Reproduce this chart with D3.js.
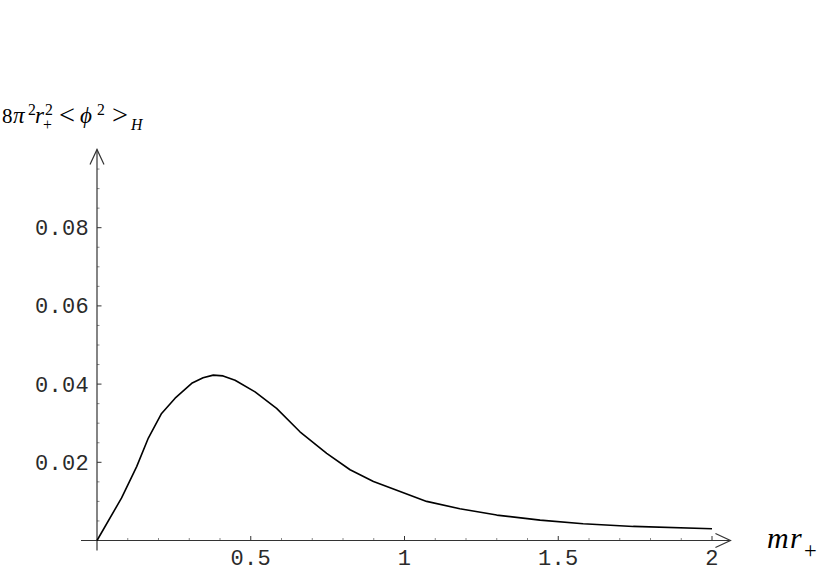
<!DOCTYPE html>
<meta charset="utf-8">
<style>
body { margin: 0; background: #fff; }
.tick-label { font-family: "Liberation Mono", monospace; font-size: 22px; fill: #2a2a2a; letter-spacing: 0.3px; }
.title { font-family: "Liberation Serif", "DejaVu Serif", serif; fill: #000; }
</style>
<body>
<svg width="818" height="576"></svg>
<script src="https://d3js.org/d3.v7.min.js"></script>
<script>

// data
var mr = [0, 0.08, 0.129, 0.167, 0.21, 0.254, 0.308, 0.345, 0.378, 0.41, 0.449, 0.514, 0.584, 0.66, 0.747, 0.823, 0.899, 0.964, 1.072, 1.18, 1.3, 1.441, 1.581, 1.744, 2.0];
var phi2 = [0, 0.0109, 0.0189, 0.0262, 0.0325, 0.0364, 0.0402, 0.0416, 0.0423, 0.0421, 0.0410, 0.0380, 0.0338, 0.0278, 0.0223, 0.0181, 0.0151, 0.0132, 0.0100, 0.0081, 0.0065, 0.0052, 0.0043, 0.0036, 0.0030];
var xTicks = [0.5, 1, 1.5, 2];
var xTickLabels = ["0.5", "1", "1.5", "2"];
var yTicks = [0.02, 0.04, 0.06, 0.08];
var yTickLabels = ["0.02", "0.04", "0.06", "0.08"];

var svg = d3.select("svg");

var x = d3.scaleLinear().domain([0, 2]).range([97, 712]);
var y = d3.scaleLinear().domain([0, 0.1]).range([540.5, 149.5]);

var axisColor = "#333";

// minor ticks every 0.1 / 0.005, majors every 0.5 / 0.02
var xMinor = d3.range(1, 21).map(function(i) { return i / 10; });
var yMinor = d3.range(1, 20).map(function(i) { return i * 0.005; });
function isMajorX(d) { return Math.abs(d * 2 - Math.round(d * 2)) < 1e-6; }
function isMajorY(d) { return Math.abs(d * 50 - Math.round(d * 50)) < 1e-6; }

svg.append("g").selectAll("line")
  .data(xMinor)
  .enter().append("line")
    .attr("x1", function(d) { return x(d); })
    .attr("x2", function(d) { return x(d); })
    .attr("y1", y(0))
    .attr("y2", function(d) { return y(0) - (isMajorX(d) ? 4.5 : 2.5); })
    .attr("stroke", function(d) { return isMajorX(d) ? axisColor : "#888"; })
    .attr("stroke-width", 1);

svg.append("g").selectAll("line")
  .data(yMinor)
  .enter().append("line")
    .attr("y1", function(d) { return y(d); })
    .attr("y2", function(d) { return y(d); })
    .attr("x1", x(0))
    .attr("x2", function(d) { return x(0) + (isMajorY(d) ? 4.5 : 2.5); })
    .attr("stroke", function(d) { return isMajorY(d) ? axisColor : "#888"; })
    .attr("stroke-width", 1);

// axis lines
svg.append("line")
  .attr("x1", x(-0.052)).attr("x2", x(2.06))
  .attr("y1", y(0)).attr("y2", y(0))
  .attr("stroke", axisColor).attr("stroke-width", 1.2);
svg.append("line")
  .attr("x1", x(0)).attr("x2", x(0))
  .attr("y1", y(0) + 10).attr("y2", y(0.1))
  .attr("stroke", axisColor).attr("stroke-width", 1.2);

// arrow heads
var xt = x(2.06), yt = y(0.1);
svg.append("path")
  .attr("d", "M" + (xt - 15) + "," + (y(0) - 7) + "L" + xt + "," + y(0) + "L" + (xt - 15) + "," + (y(0) + 7))
  .attr("fill", "none").attr("stroke", axisColor).attr("stroke-width", 1.2);
svg.append("path")
  .attr("d", "M" + (x(0) - 7) + "," + (yt + 15) + "L" + x(0) + "," + yt + "L" + (x(0) + 7) + "," + (yt + 15))
  .attr("fill", "none").attr("stroke", axisColor).attr("stroke-width", 1.2);

// tick labels
svg.append("g").selectAll("text")
  .data(xTicks)
  .enter().append("text")
    .attr("class", "tick-label")
    .attr("x", function(d) { return x(d); })
    .attr("y", y(0) + 24)
    .attr("text-anchor", "middle")
    .text(function(d, i) { return xTickLabels[i]; });

svg.append("g").selectAll("text")
  .data(yTicks)
  .enter().append("text")
    .attr("class", "tick-label")
    .attr("x", 89)
    .attr("y", function(d) { return y(d) + 7.5; })
    .attr("text-anchor", "end")
    .text(function(d, i) { return yTickLabels[i]; });

// curve
var line = d3.line()
  .x(function(d, i) { return x(mr[i]); })
  .y(function(d, i) { return y(phi2[i]); });

svg.append("path")
  .datum(phi2)
  .attr("d", line)
  .attr("fill", "none")
  .attr("stroke", "#000")
  .attr("stroke-width", 1.6)
  .attr("stroke-linejoin", "round");

// math titles: one text element, pieces as tspans at given x
function mathText(pieces, base, size) {
  var t = svg.append("text").attr("class", "title").attr("font-size", size);
  pieces.forEach(function(p) {
    var dy = p.kind === "sup" ? -size * 0.4 : p.kind === "sub" ? size * 0.32 : (p.dy || 0);
    var s = p.kind ? size * 0.75 : size * (p.scale || 1);
    t.append("tspan")
      .attr("x", p.x)
      .attr("y", base + dy)
      .attr("font-size", s)
      .attr("font-style", p.it ? "italic" : "normal")
      .text(p.t);
  });
  return t;
}

mathText([
  {t: "8", x: 2}, {t: "π", x: 13, it: true, scale: 1.1}, {t: "2", x: 28, kind: "sup"},
  {t: "r", x: 35, it: true, scale: 1.1}, {t: "2", x: 45, kind: "sup"}, {t: "+", x: 43, kind: "sub"},
  {t: "<", x: 59, scale: 1.35, dy: 1}, {t: "ϕ", x: 80, it: true, scale: 1.1}, {t: "2", x: 97, kind: "sup"},
  {t: ">", x: 112, scale: 1.35, dy: 1}, {t: "H", x: 131, it: true, kind: "sub"}
], 123, 21);

mathText([
  {t: "m", x: 767, it: true}, {t: "r", x: 790, it: true}, {t: "+", x: 804, kind: "sub"}
], 548, 30);

</script>
